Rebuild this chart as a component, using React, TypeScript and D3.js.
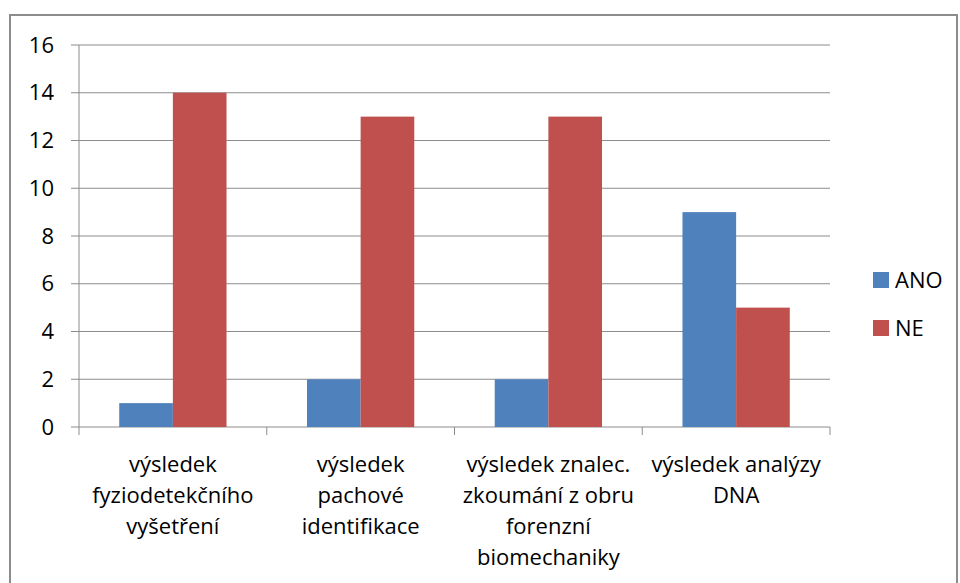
import React from 'react';
import * as d3 from 'd3';

const categories = [
  ['výsledek', 'fyziodetekčního', 'vyšetření'],
  ['výsledek', 'pachové', 'identifikace'],
  ['výsledek znalec.', 'zkoumání z obru', 'forenzní', 'biomechaniky'],
  ['výsledek analýzy', 'DNA'],
];
const seriesNames = ['ANO', 'NE'];
const anoValues = [1, 2, 2, 9];
const neValues = [14, 13, 13, 5];
const yTicks = [0, 2, 4, 6, 8, 10, 12, 14, 16];
const colors = ['#4F81BD', '#C0504D'];

const font = 'Open Sans, Liberation Sans, sans-serif';

const App: React.FC = () => {
  const width = 960;
  const height = 583;
  const left = 79;
  const right = 830;
  const top = 45;
  const bottom = 427;

  const x = d3.scaleBand<number>()
    .domain(d3.range(categories.length))
    .range([left, right])
    .paddingInner(0)
    .paddingOuter(0);
  const inner = d3.scaleBand<number>()
    .domain([0, 1])
    .range([0, x.bandwidth()])
    .paddingOuter(0.75)
    .paddingInner(0);
  const y = d3.scaleLinear().domain([0, 16]).range([bottom, top]);

  const values = [anoValues, neValues];

  return (
    <svg width={width} height={height} style={{ position: 'absolute', left: 0, top: 0, background: '#fff' }}>
      <rect x={10} y={15} width={947} height={600} fill="#fff" stroke="#8c8c8c" strokeWidth={2} />

      {yTicks.map(t => (
        <g key={t}>
          <line x1={left - 8} x2={right} y1={y(t)} y2={y(t)} stroke="#8c8c8c" strokeWidth={1} />
          <text x={54} y={y(t)} dy="0.35em" textAnchor="end" fontFamily={font} fontSize={22} fill="#000">{t}</text>
        </g>
      ))}

      <line x1={left} x2={left} y1={top} y2={bottom} stroke="#8c8c8c" />

      {d3.range(categories.length + 1).map(i => {
        const xx = i < categories.length ? x(i)! : right;
        return <line key={i} x1={xx} x2={xx} y1={bottom} y2={bottom + 8} stroke="#8c8c8c" />;
      })}

      {values.map((series, s) => series.map((v, i) => (
        <rect
          key={`${s}-${i}`}
          x={x(i)! + inner(s)!}
          y={y(v)}
          width={inner.bandwidth()}
          height={bottom - y(v)}
          fill={colors[s]}
        />
      )))}

      {categories.map((lines, i) => (
        <text key={i} textAnchor="middle" fontFamily={font} fontSize={22} fill="#000">
          {lines.map((ln, j) => (
            <tspan key={j} x={x(i)! + x.bandwidth() / 2} y={472 + j * 31}>{ln}</tspan>
          ))}
        </text>
      ))}

      {seriesNames.map((n, s) => (
        <g key={n} transform={`translate(873, ${272 + s * 48})`}>
          <rect width={16} height={16} fill={colors[s]} />
          <text x={22} y={8} dy="0.35em" fontFamily={font} fontSize={22} fill="#000">{n}</text>
        </g>
      ))}
    </svg>
  );
};

export default App;
